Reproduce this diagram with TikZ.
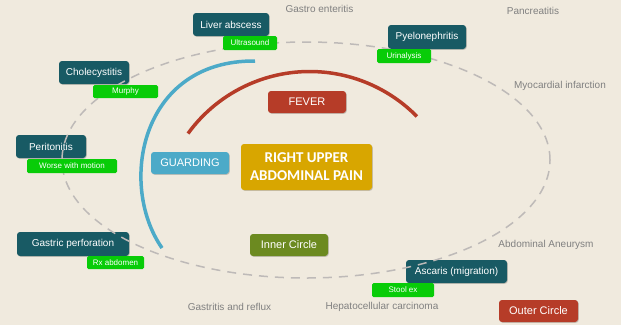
\documentclass[tikz,border=0pt]{standalone}
\usepackage{fontspec}
\setmainfont{Liberation Sans}
\newfontfamily\calib{Carlito}
\usetikzlibrary{shadows}
\definecolor{bgc}{RGB}{240,234,222}
\definecolor{tealc}{RGB}{24,90,100}
\definecolor{greenc}{RGB}{8,204,8}
\definecolor{redc}{RGB}{182,60,40}
\definecolor{bluec}{RGB}{76,170,200}
\definecolor{goldc}{RGB}{216,166,0}
\definecolor{olivec}{RGB}{108,138,32}
\definecolor{grayt}{RGB}{128,128,128}
\definecolor{dashc}{RGB}{190,186,184}
\tikzset{
  box/.style={rectangle, rounded corners=3pt, inner sep=0pt, text=white, anchor=center},
  shad/.style={drop shadow={shadow xshift=0.8pt, shadow yshift=-0.8pt, opacity=0.18, fill=black}},
  tealbox/.style={box, shad, fill=tealc, font=\fontsize{10}{12}\selectfont},
  greenbox/.style={box, rounded corners=1.5pt, fill=greenc, font=\fontsize{8}{10}\selectfont},
  bigbox/.style={box, shad, font=\fontsize{11}{13}\selectfont},
  plain/.style={text=grayt, inner sep=0pt, anchor=center, font=\fontsize{10}{12}\selectfont},
}
\begin{document}
\begin{tikzpicture}[x=1pt,y=1pt]
\fill[bgc] (0,0) rectangle (621,-325);
\useasboundingbox (0,0) rectangle (621,-325);
% arcs
\draw[bluec, line width=3.5pt] (255,-61) .. controls (140,-60) and (118,-185) .. (162,-248);
\draw[redc, line width=3.5pt] (188,-133.5) arc[start angle=144, end angle=44.5, radius=150.4];
% teal boxes
\node[tealbox, minimum width=76pt, minimum height=23pt] (liver) at (231,-24.5) {Liver abscess};
\node[tealbox, minimum width=70pt, minimum height=23pt] (chole) at (94,-72.5) {Cholecystitis};
\node[tealbox, minimum width=70pt, minimum height=23pt] (perit) at (51,-146.5) {Peritonitis};
\node[tealbox, minimum width=112pt, minimum height=24pt] (gastric) at (73,-244) {Gastric perforation};
\node[tealbox, minimum width=78pt, minimum height=24pt] (pyelo) at (427,-37) {Pyelonephritis};
\node[tealbox, minimum width=101pt, minimum height=23pt] (ascaris) at (456.5,-271.5) {Ascaris (migration)};
% dashed ellipse
\draw[dashc, line width=1.5pt, dash pattern=on 9pt off 7pt] (306,-160) ellipse[x radius=244, y radius=118];
% green labels
\node[greenbox, minimum width=54pt, minimum height=14pt] (ultra) at (250,-43) {Ultrasound};
\node[greenbox, minimum width=65pt, minimum height=13pt] (murphy) at (125.5,-91.5) {Murphy};
\node[greenbox, minimum width=90pt, minimum height=14pt] (worse) at (72,-166) {Worse with motion};
\node[greenbox, minimum width=57pt, minimum height=13pt] (rx) at (115.5,-262.5) {Rx abdomen};
\node[greenbox, minimum width=54pt, minimum height=14pt] (urin) at (404,-56) {Urinalysis};
\node[greenbox, minimum width=62pt, minimum height=14pt] (stool) at (403,-290) {Stool ex};
% central boxes
\node[bigbox, fill=redc, minimum width=78pt, minimum height=22pt] (fever) at (307,-102) {FEVER};
\node[bigbox, fill=bluec, minimum width=78pt, minimum height=22pt] (guard) at (190,-163) {GUARDING};
\node[bigbox, fill=goldc, minimum width=131pt, minimum height=46pt, align=center, font=\calib\bfseries\fontsize{15}{18}\selectfont] (ruap) at (306.5,-167) {RIGHT UPPER\\ABDOMINAL PAIN};
\node[bigbox, fill=olivec, minimum width=78pt, minimum height=22pt] (inner) at (289,-245) {Inner Circle};
\node[bigbox, fill=redc, minimum width=79pt, minimum height=22pt] (outer) at (538.5,-311) {Outer Circle};
% plain texts
\node[plain] (gastro) at (319.5,-9) {Gastro enteritis};
\node[plain] (pancr) at (533,-11) {Pancreatitis};
\node[plain] (myo) at (560,-86) {Myocardial infarction};
\node[plain] (aneur) at (546,-245) {Abdominal Aneurysm};
\node[plain] (gastritis) at (229.5,-307) {Gastritis and reflux};
\node[plain] (hepato) at (382,-307) {Hepatocellular carcinoma};
\end{tikzpicture}
\end{document}
